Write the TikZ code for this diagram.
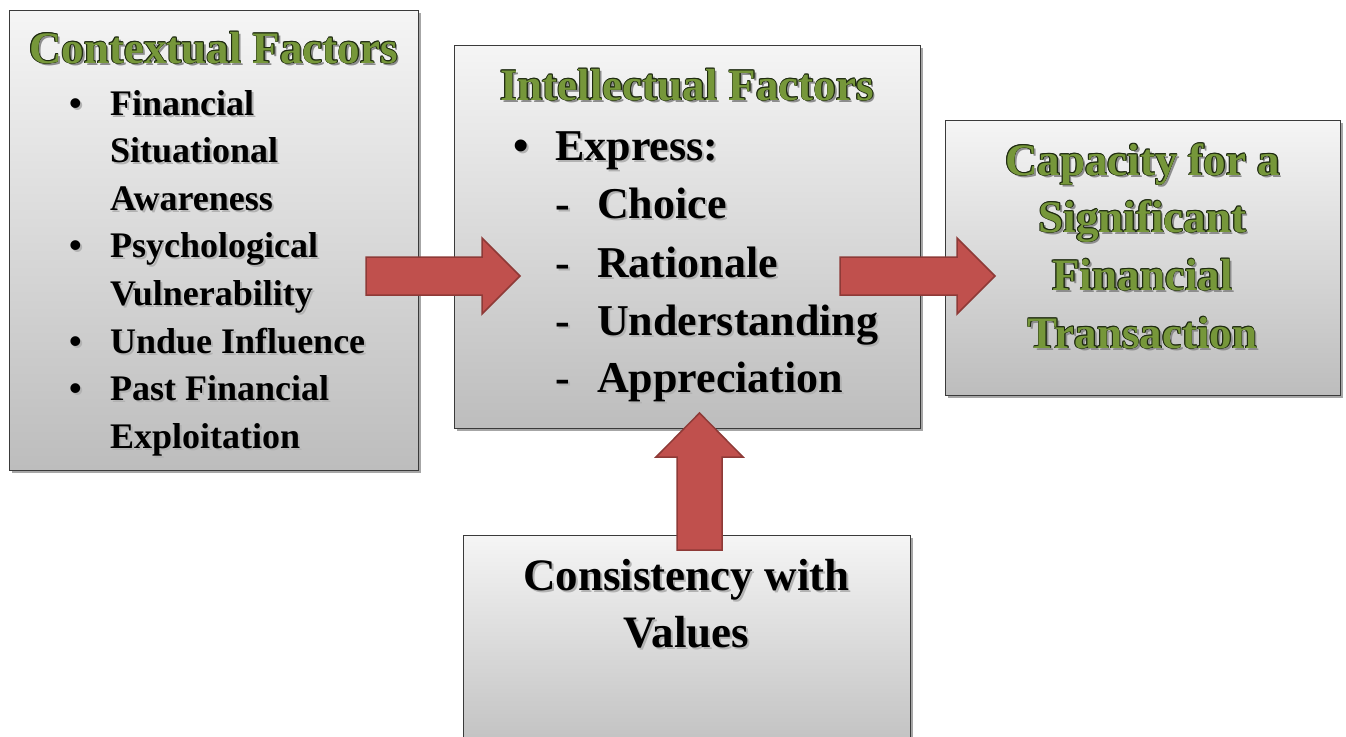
\documentclass[tikz,border=0pt]{standalone}
\usepackage{fontspec}
\setmainfont{Liberation Serif}
\usetikzlibrary{calc,shadows}

\definecolor{titlegreen}{HTML}{76973A}
\definecolor{titleedge}{HTML}{1E2A10}
\definecolor{arrowfill}{HTML}{C0504D}
\definecolor{arrowedge}{HTML}{8E3A37}
\definecolor{boxedge}{HTML}{3A3A3A}

% black text with a soft offset shadow
\newcommand\shd[1]{\leavevmode\rlap{\hspace{2pt}\raisebox{-2pt}{\textcolor{black!30}{#1}}}#1}
% one dark copy of a title, shifted
\newcommand\edgecopy[3]{\rlap{\hspace{#1}\raisebox{#2}{\textcolor{titleedge}{#3}}}}
% green title with dark rim and shadow
\newcommand\ttl[1]{\leavevmode
  \rlap{\hspace{2.5pt}\raisebox{-2.5pt}{\textcolor{black!45}{#1}}}%
  \edgecopy{-0.8pt}{0pt}{#1}\edgecopy{0.8pt}{0pt}{#1}%
  \edgecopy{0pt}{0.8pt}{#1}\edgecopy{0pt}{-0.8pt}{#1}%
  \edgecopy{-0.6pt}{0.6pt}{#1}\edgecopy{0.6pt}{0.6pt}{#1}%
  \edgecopy{-0.6pt}{-0.6pt}{#1}\edgecopy{0.6pt}{-0.6pt}{#1}%
  \textcolor{titlegreen}{#1}}

\tikzset{
  panel/.style={draw=boxedge, line width=1.4pt, top color=white!96!black,
    bottom color=black!26, anchor=north west, inner sep=0pt,
    drop shadow={shadow xshift=2pt, shadow yshift=-2.5pt, opacity=0.35, fill=black}},
  titletext/.style={font=\fontsize{45}{54}\selectfont\bfseries, anchor=base, inner sep=0pt},
  smalltext/.style={font=\fontsize{36}{47}\selectfont\bfseries, anchor=base west, inner sep=0pt},
  bigtext/.style={font=\fontsize{44}{58}\selectfont\bfseries, anchor=base west, inner sep=0pt},
  centretext/.style={font=\fontsize{45}{58}\selectfont\bfseries, anchor=base, inner sep=0pt},
  blockarrow/.style={fill=arrowfill, draw=arrowedge, line width=1.5pt, line join=miter},
  harrow/.style={blockarrow, to path={
    ($(\tikztostart)+(0,-19)$) -- ($(\tikztotarget)+(-38,-19)$) --
    ($(\tikztotarget)+(-38,-38)$) -- (\tikztotarget) --
    ($(\tikztotarget)+(-38,38)$) -- ($(\tikztotarget)+(-38,19)$) --
    ($(\tikztostart)+(0,19)$) -- cycle}},
  varrow/.style={blockarrow, to path={
    ($(\tikztostart)+(-22.5,0)$) -- ($(\tikztotarget)+(-22.5,44)$) --
    ($(\tikztotarget)+(-43.5,44)$) -- (\tikztotarget) --
    ($(\tikztotarget)+(43.5,44)$) -- ($(\tikztotarget)+(22.5,44)$) --
    ($(\tikztostart)+(22.5,0)$) -- cycle}},
}

\begin{document}
\begin{tikzpicture}[x=1pt, y=-1pt]
\useasboundingbox (0,0) rectangle (1346,736);
\clip (0,0) rectangle (1346,736);

% panels
\node[panel, minimum width=409, minimum height=460] (ctx) at (9,10) {};
\node[panel, minimum width=466, minimum height=383] (intel) at (454,45) {};
\node[panel, minimum width=395, minimum height=275] (cap) at (945,120) {};
\node[panel, minimum width=447, minimum height=230] (cons) at (463,535) {};

% contextual factors
\node[titletext] (ctx-t) at (213.5,63) {\ttl{Contextual Factors}};
\foreach \y/\txt/\b in {115/Financial/1, 162.6/Situational/0, 210/Awareness/0,
    257.8/Psychological/1, 305.4/Vulnerability/0, 353/Undue Influence/1,
    400.6/Past Financial/1, 448.2/Exploitation/0}{
  \node[smalltext] (ctx-\y) at (110,\y) {\shd{\txt}};
  \ifnum\b=1 \node[smalltext] (ctx-b\y) at (69,\y) {\shd{•}};\fi
}

% intellectual factors
\node[titletext] (intel-t) at (687,100) {\ttl{Intellectual Factors}};
\node[bigtext] (intel-b) at (513,160) {\shd{•}};
\node[bigtext] (intel-e) at (555,160) {\shd{Express:}};
\foreach \y/\txt in {218/Choice, 277/Rationale, 335/Understanding, 392/Appreciation}{
  \node[bigtext] (intel-d\y) at (555,\y) {\shd{-}};
  \node[bigtext] (intel-\y) at (597,\y) {\shd{\txt}};
}

% capacity
\foreach \y/\txt in {175/Capacity for a, 232/Significant, 290/Financial, 348/Transaction}{
  \node[titletext] (cap-\y) at (1142.5,\y) {\ttl{\txt}};
}

% consistency with values
\node[centretext] (cons-1) at (686.5,590) {\shd{Consistency with}};
\node[centretext] (cons-2) at (686.5,647) {\shd{Values}};

% block arrows
\coordinate (ctx-out) at (366,276);
\coordinate (intel-in) at (520,276);
\coordinate (intel-out) at (840,276);
\coordinate (cap-in) at (995,276);
\coordinate (cons-out) at (699.5,550);
\coordinate (intel-low) at (699.5,413);
\draw[harrow] (ctx-out) to (intel-in);
\draw[harrow] (intel-out) to (cap-in);
\draw[varrow] (cons-out) to (intel-low);
\end{tikzpicture}
\end{document}
